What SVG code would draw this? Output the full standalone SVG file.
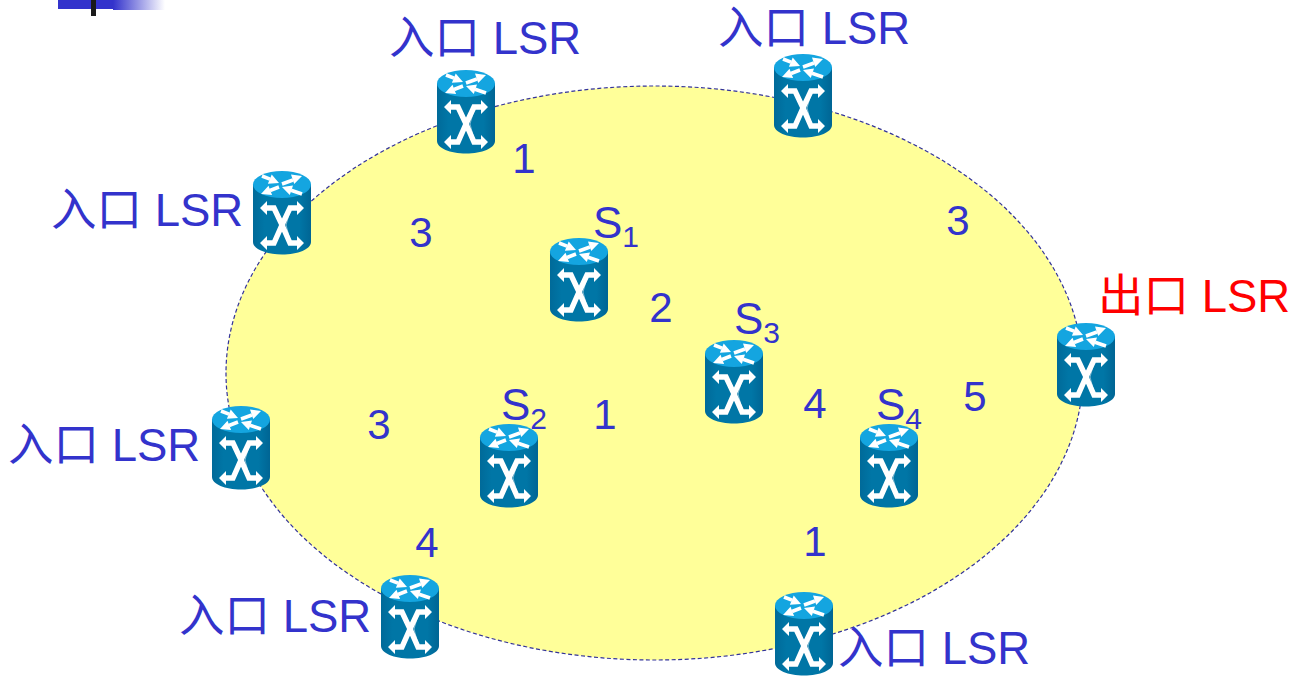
<svg xmlns="http://www.w3.org/2000/svg" width="1303" height="677" viewBox="0 0 1303 677">
<style>
text{font-family:"Liberation Sans","Noto Sans CJK SC",sans-serif;fill:#3333cc}
.l{font-size:45.500px}
.n{font-size:42px;text-anchor:middle}
.s{font-size:44px}
.sub{font-size:30px}
.red{fill:#ff0000}
.a{fill:none;stroke:#fff;stroke-width:3.600}
.x{fill:none;stroke:#fff;stroke-width:5.400;stroke-linejoin:miter}
.xs{fill:none;stroke:#7fb6cf;stroke-width:1}
.h{fill:#fff}
</style>
<defs>
<linearGradient id="fade"><stop offset="0" stop-color="#3333cc"/><stop offset="1" stop-color="#fff"/></linearGradient>
<linearGradient id="body"><stop offset="0" stop-color="#006a99"/><stop offset=".2" stop-color="#0076a6"/><stop offset=".8" stop-color="#0076a6"/><stop offset="1" stop-color="#006594"/></linearGradient>
<g id="router">
<path d="M0 13V71C0 78 13 83.500 29 83.500S58 78 58 71V13Z" fill="url(#body)"/>
<ellipse cx="29" cy="13.500" rx="29" ry="13.500" fill="#14a5e0"/>
<path class="a" d="M29 13L40 9M26 16L17 19.500M9 5L17 8.200M49 23L38 19.300"/>
<path class="h" d="M49 5L41.200 13L38 3.600ZM8 23L19.100 24L15.500 14.800ZM26 12L14.900 12.800L18.700 3.600ZM29 16L40 14.600L36.800 24Z"/>
<path class="xs" d="M24 41L32 54L24 68M37 40L33 54L37 69"/>
<path class="x" d="M13 37H21L29 54L37 37H45M13 72H21L29 54L37 72H45"/>
<path class="h" d="M14 30V44L7 37ZM44 30V44L51 37ZM14 65V79L7 72ZM44 65V79L51 72Z"/>
</g>
</defs>
<g id="header">
<rect x="58" y="0" width="55" height="9" fill="#3333cc"/>
<rect x="113" y="0" width="52" height="10" fill="url(#fade)"/>
<rect x="91" y="0" width="5" height="16" fill="#1a1a1a"/>
</g>
<ellipse id="domain" cx="654.500" cy="373" rx="428.500" ry="287" fill="#ffff99" stroke="#333399" stroke-width="1.200" stroke-dasharray="4 2.500"/>
<g id="connectors"/>
<g id="r1"><use href="#router" x="437" y="70"/><text class="l" x="389" y="54">入口 LSR</text></g>
<g id="r2"><use href="#router" x="774" y="54"/><text class="l" x="718" y="44">入口 LSR</text></g>
<g id="r3"><use href="#router" x="253" y="171"/><text class="l" x="51" y="226">入口 LSR</text></g>
<g id="s1"><use href="#router" x="550" y="238"/><text class="s" x="593" y="238">S<tspan class="sub" dy="9">1</tspan></text></g>
<g id="s3"><use href="#router" x="705" y="340"/><text class="s" x="734" y="334">S<tspan class="sub" dy="9">3</tspan></text></g>
<g id="egress"><use href="#router" x="1057" y="323"/><text class="l red" x="1098" y="312">出口 LSR</text></g>
<g id="r4"><use href="#router" x="212" y="406"/><text class="l" x="8" y="461">入口 LSR</text></g>
<g id="s2"><use href="#router" x="480" y="424"/><text class="s" x="501" y="420">S<tspan class="sub" dy="9">2</tspan></text></g>
<g id="s4"><use href="#router" x="860" y="424"/><text class="s" x="876" y="420">S<tspan class="sub" dy="9">4</tspan></text></g>
<g id="r5"><use href="#router" x="381" y="575"/><text class="l" x="179" y="632">入口 LSR</text></g>
<g id="r6"><use href="#router" x="775" y="592"/><text class="l" x="838" y="664">入口 LSR</text></g>
<g id="weights">
<text class="n" x="524" y="173">1</text>
<text class="n" x="421" y="247">3</text>
<text class="n" x="958" y="235">3</text>
<text class="n" x="661" y="322">2</text>
<text class="n" x="605" y="429">1</text>
<text class="n" x="815" y="418">4</text>
<text class="n" x="975" y="411">5</text>
<text class="n" x="379" y="439">3</text>
<text class="n" x="427" y="557">4</text>
<text class="n" x="815" y="556">1</text>
</g>
</svg>
